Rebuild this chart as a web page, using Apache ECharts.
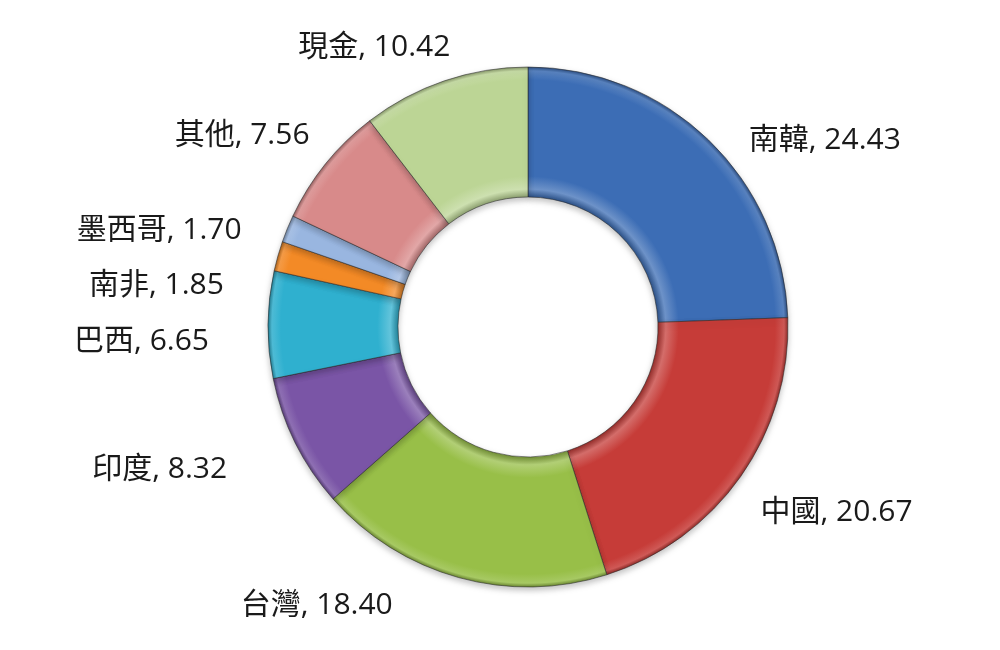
<!DOCTYPE html>
<html>
<head>
<meta charset="utf-8">
<script src="https://cdn.jsdelivr.net/npm/echarts@6/dist/echarts.min.js"></script>
<style>html,body{margin:0;padding:0;background:#fff}#c{width:1000px;height:650px}</style>
</head>
<body>
<div id="c"></div>
<script>
const categories = ['南韓', '中國', '台灣', '印度', '巴西', '南非', '墨西哥', '其他', '現金'];
const values = [24.43, 20.67, 18.40, 8.32, 6.65, 1.85, 1.70, 7.56, 10.42];
const colors = ['#3c6db5', '#c63c38', '#98bf48', '#7a55a6', '#2fb0cf', '#f38a26', '#99b6e0', '#d88a8a', '#bcd595'];

const cx = 528, cy = 327, R = 260, r0 = 130;

function shade(hex, f) {
  const n = parseInt(hex.slice(1), 16);
  let rr = (n >> 16) & 255, gg = (n >> 8) & 255, bb = n & 255;
  const m = c => f < 0 ? Math.round(c * (1 + f)) : Math.round(c + (255 - c) * f);
  return 'rgb(' + m(rr) + ',' + m(gg) + ',' + m(bb) + ')';
}

// manual fine placement of data labels (as moved by hand in the original)
const labelShift = {
  '南韓': [10, 16], '中國': [-13, 23], '台灣': [-45, 7], '印度': [-38, 17], '巴西': [-27, 17],
  '南非': [-22, 33], '墨西哥': [-15, 10], '其他': [12, -15], '現金': [28, -13]
};

const chart = echarts.init(document.getElementById('c'));
chart.setOption({
  animation: false,
  series: [{
    type: 'pie',
    center: [cx, cy],
    radius: [r0, R],
    startAngle: 90,
    clockwise: true,
    avoidLabelOverlap: true,
    label: {
      show: true,
      position: 'outside',
      formatter: p => p.name + ', ' + p.value.toFixed(2),
      fontFamily: '"Open Sans", "Noto Sans CJK TC", sans-serif',
      fontSize: 30,
      color: '#1a1a1a'
    },
    labelLine: { show: false, length: 22, length2: 10 },
    labelLayout: p => {
      const s = labelShift[categories[p.dataIndex]] || [0, 0];
      return { dx: s[0], dy: s[1] };
    },
    itemStyle: { borderColor: 'rgba(40,40,40,0.55)', borderWidth: 1, shadowColor: 'rgba(0,0,0,0.25)', shadowBlur: 6, shadowOffsetY: 3 },
    data: categories.map((name, i) => ({
      name,
      value: values[i],
      itemStyle: {
        color: {
          type: 'radial', x: cx, y: cy, r: R, global: true,
          colorStops: [
            { offset: 0.5, color: shade(colors[i], -0.25) },
            { offset: 0.53, color: shade(colors[i], 0.25) },
            { offset: 0.58, color: colors[i] },
            { offset: 0.95, color: colors[i] },
            { offset: 0.985, color: shade(colors[i], 0.15) },
            { offset: 1, color: shade(colors[i], -0.3) }
          ]
        }
      }
    }))
  }]
});
</script>
</body>
</html>
